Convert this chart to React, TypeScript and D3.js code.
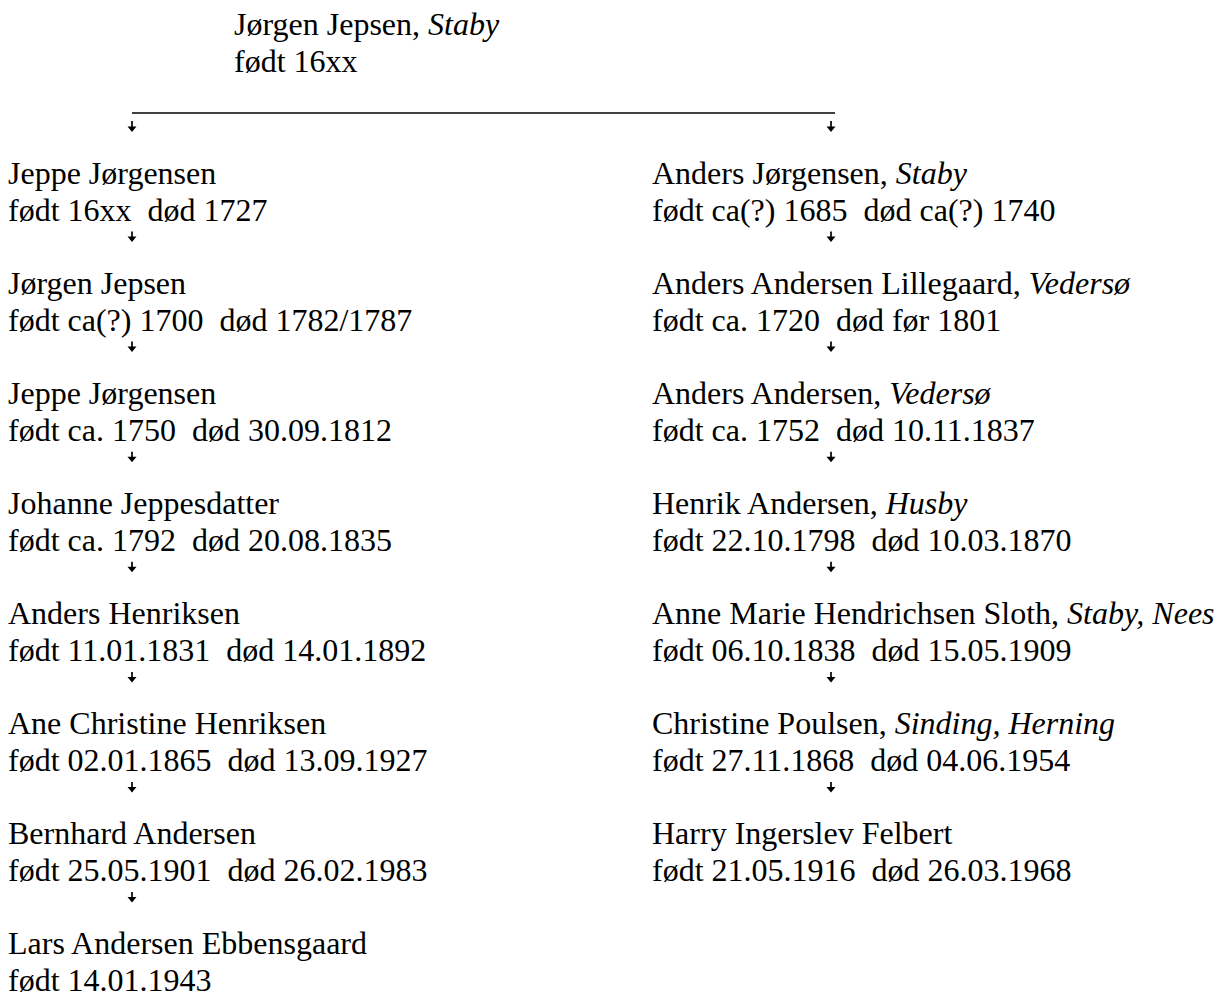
import React from "react";
import * as d3 from "d3";

// ---- Data ----
const rootName = "Jørgen Jepsen";
const rootPlace = "Staby";
const rootDates = "født 16xx";

const leftNames = [
  "Jeppe Jørgensen",
  "Jørgen Jepsen",
  "Jeppe Jørgensen",
  "Johanne Jeppesdatter",
  "Anders Henriksen",
  "Ane Christine Henriksen",
  "Bernhard Andersen",
  "Lars Andersen Ebbensgaard",
];
const leftPlaces = ["", "", "", "", "", "", "", ""];
const leftDates = [
  "født 16xx  død 1727",
  "født ca(?) 1700  død 1782/1787",
  "født ca. 1750  død 30.09.1812",
  "født ca. 1792  død 20.08.1835",
  "født 11.01.1831  død 14.01.1892",
  "født 02.01.1865  død 13.09.1927",
  "født 25.05.1901  død 26.02.1983",
  "født 14.01.1943",
];

const rightNames = [
  "Anders Jørgensen",
  "Anders Andersen Lillegaard",
  "Anders Andersen",
  "Henrik Andersen",
  "Anne Marie Hendrichsen Sloth",
  "Christine Poulsen",
  "Harry Ingerslev Felbert",
];
const rightPlaces = ["Staby", "Vedersø", "Vedersø", "Husby", "Staby, Nees", "Sinding, Herning", ""];
const rightDates = [
  "født ca(?) 1685  død ca(?) 1740",
  "født ca. 1720  død før 1801",
  "født ca. 1752  død 10.11.1837",
  "født 22.10.1798  død 10.03.1870",
  "født 06.10.1838  død 15.05.1909",
  "født 27.11.1868  død 04.06.1954",
  "født 21.05.1916  død 26.03.1968",
];

const columns = ["left", "right"];

// ---- Layout ----
const W = 1220;
const H = 996;
const FONT = "'Liberation Serif', 'Times New Roman', serif";
const FS = 32;
const LINE = 37;

const rowY = d3.scaleLinear().domain([0, 1]).range([183.5, 293.6]);
const colX = d3.scaleOrdinal<string, number>().domain(columns).range([8, 652]);
const arrowX = d3.scaleOrdinal<string, number>().domain(columns).range([132, 831]);

function Arrow({ x, yTop, yTip }: { x: number; yTop: number; yTip: number }) {
  const hw = 4.5;
  const hh = 5.5;
  return (
    <g>
      <line x1={x} x2={x} y1={yTop} y2={yTip - hh + 0.5} stroke="#000" strokeWidth={1.7} />
      <path d={`M${x - hw},${yTip - hh}L${x + hw},${yTip - hh}L${x},${yTip}Z`} fill="#000" />
    </g>
  );
}

function Person({
  x,
  y,
  name,
  place,
  dates,
}: {
  x: number;
  y: number;
  name: string;
  place: string;
  dates: string;
}) {
  return (
    <g>
      <text x={x} y={y} style={{ whiteSpace: "pre" }}>
        {place ? (
          <>
            <tspan>{name + ", "}</tspan>
            <tspan fontStyle="italic">{place}</tspan>
          </>
        ) : (
          name
        )}
      </text>
      <text x={x} y={y + LINE} style={{ whiteSpace: "pre" }}>
        {dates}
      </text>
    </g>
  );
}

export default function App() {
  const lists = [
    { col: "left", names: leftNames, places: leftPlaces, dates: leftDates },
    { col: "right", names: rightNames, places: rightPlaces, dates: rightDates },
  ];
  const lineY = 113;
  return (
    <svg
      width={W}
      height={H}
      viewBox={`0 0 ${W} ${H}`}
      style={{ position: "absolute", left: 0, top: 0, background: "#fff" }}
      fontFamily={FONT}
      fontSize={FS}
      fill="#000"
    >
      <rect x={0} y={0} width={W} height={H} fill="#fff" />
      <Person x={234} y={35} name={rootName} place={rootPlace} dates={rootDates} />
      <line x1={arrowX("left")} x2={835} y1={lineY} y2={lineY} stroke="#000" strokeWidth={1.3} />
      {columns.map((c) => (
        <Arrow key={c} x={arrowX(c)} yTop={121} yTip={132} />
      ))}
      {lists.map((l) =>
        l.names.map((n, i) => {
          const y = rowY(i);
          return (
            <g key={l.col + i}>
              <Person x={colX(l.col)} y={y} name={n} place={l.places[i]} dates={l.dates[i]} />
              {i < l.names.length - 1 && (
                <Arrow x={arrowX(l.col)} yTop={y + LINE + 11} yTip={y + LINE + 21.5} />
              )}
            </g>
          );
        })
      )}
    </svg>
  );
}
